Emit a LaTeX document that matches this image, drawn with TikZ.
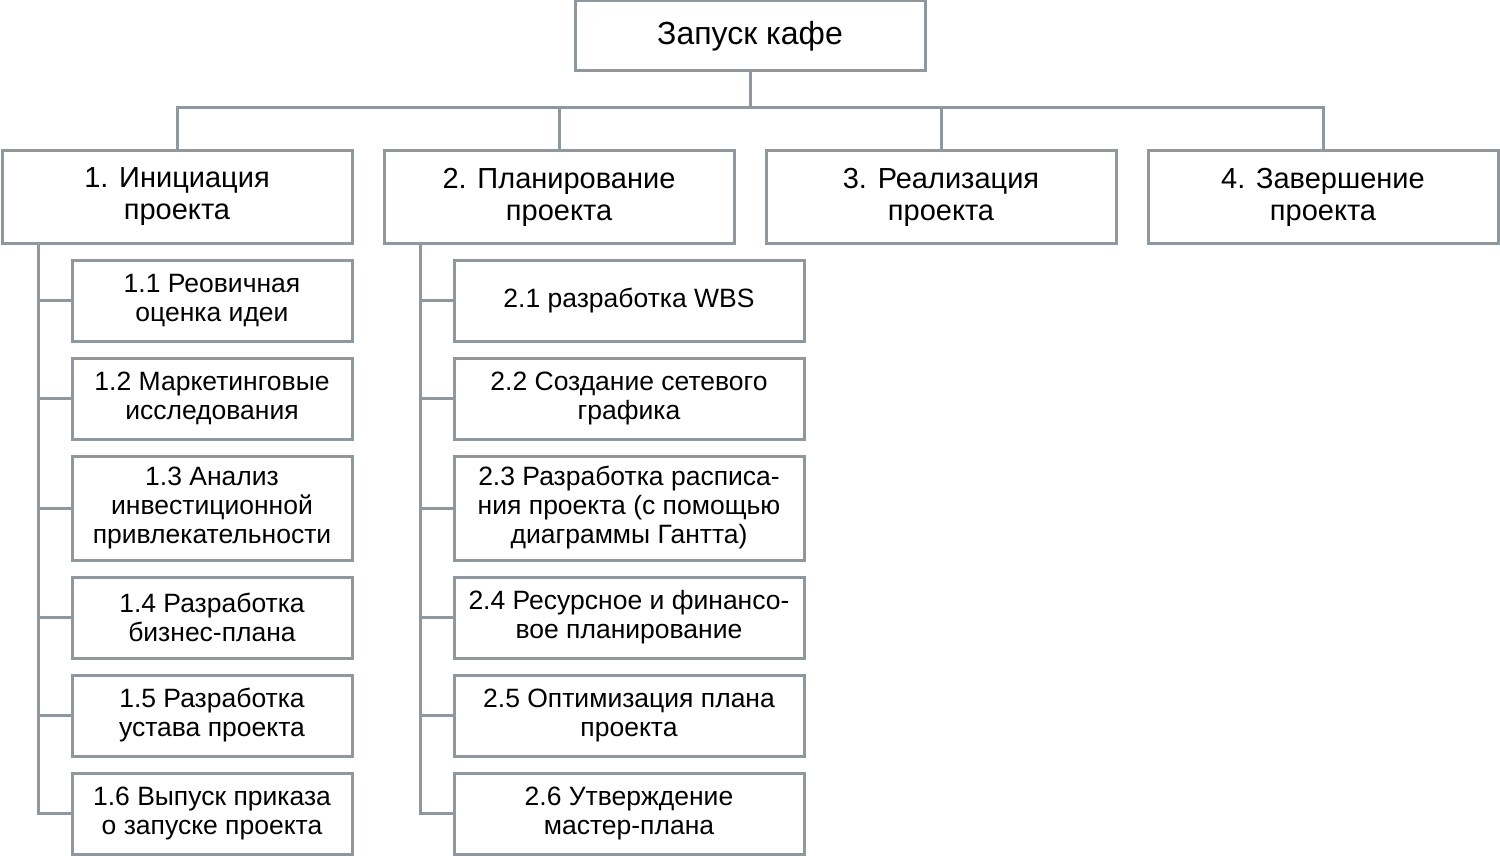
\documentclass[tikz,border=0pt]{standalone}
\usepackage{fontspec}
\setmainfont{Liberation Sans}
\definecolor{lineg}{HTML}{8F989E}
\begin{document}
\begin{tikzpicture}[x=1pt,y=-1pt,
  box/.style={draw=lineg,line width=3pt,fill=white,inner sep=0pt,align=center,text=black},
  rootbox/.style={box,minimum width=350pt,minimum height=70pt,font=\fontsize{32}{36}\selectfont},
  topbox/.style={box,minimum width=350pt,minimum height=92pt,font=\fontsize{29}{32}\selectfont},
  subbox/.style={box,minimum width=280pt,font=\fontsize{26.5}{29}\selectfont},
  subboxw/.style={box,minimum width=350pt,font=\fontsize{26.5}{29}\selectfont},
  conn/.style={draw=lineg,line width=3pt}]
\useasboundingbox (0,0) rectangle (1500,856);
\fill[white] (0,0) rectangle (1500,856);
\coordinate (busy) at (0,108);
\coordinate (sp1) at (38,0);
\coordinate (sp2) at (420,0);
\node[rootbox] (root) at (750,36) {Запуск кафе};
\node[topbox] (b1) at (177,197) {1. Инициация\\проекта};
\node[topbox] (b2) at (559,197) {2. Планирование\\проекта};
\node[topbox] (b3) at (941,197) {3. Реализация\\проекта};
\node[topbox] (b4) at (1323,197) {4. Завершение\\проекта};
% children of 1
\node[subbox,minimum height=81pt] (c11) at (212,300.5) {1.1 Реовичная\\оценка идеи};
\node[subbox,minimum height=81pt] (c12) at (212,398.5) {1.2 Маркетинговые\\исследования};
\node[subbox,minimum height=104pt] (c13) at (212,508) {1.3 Анализ\\инвестиционной\\привлекательности};
\node[subbox,minimum height=81pt] (c14) at (212,617.5) {1.4 Разработка\\бизнес-плана};
\node[subbox,minimum height=81pt] (c15) at (212,715.5) {1.5 Разработка\\устава проекта};
\node[subbox,minimum height=81pt] (c16) at (212,813.5) {1.6 Выпуск приказа\\о запуске проекта};
% children of 2
\node[subboxw,minimum height=81pt] (c21) at (629,300.5) {2.1 разработка WBS};
\node[subboxw,minimum height=81pt] (c22) at (629,398.5) {2.2 Создание сетевого\\графика};
\node[subboxw,minimum height=104pt] (c23) at (629,508) {2.3 Разработка расписа-\\ния проекта (с помощью\\диаграммы Гантта)};
\node[subboxw,minimum height=81pt] (c24) at (629,617.5) {2.4 Ресурсное и финансо-\\вое планирование};
\node[subboxw,minimum height=81pt] (c25) at (629,715.5) {2.5 Оптимизация плана\\проекта};
\node[subboxw,minimum height=81pt] (c26) at (629,813.5) {2.6 Утверждение\\мастер-плана};
% bus
\draw[conn] (root.south) -- (root.south |- busy);
\draw[conn] (b1.north) -- (b1.north |- busy) -- (b4.north |- busy) -- (b4.north);
\draw[conn] (b2.north) -- (b2.north |- busy);
\draw[conn] (b3.north) -- (b3.north |- busy);
% spine 1
\draw[conn] (b1.south -| sp1) -- (c16.west -| sp1) -- (c16.west);
\foreach \c in {c11,c12,c13,c14,c15} \draw[conn] (\c.west -| sp1) -- (\c.west);
% spine 2
\draw[conn] (b2.south -| sp2) -- (c26.west -| sp2) -- (c26.west);
\foreach \c in {c21,c22,c23,c24,c25} \draw[conn] (\c.west -| sp2) -- (\c.west);
\end{tikzpicture}
\end{document}
